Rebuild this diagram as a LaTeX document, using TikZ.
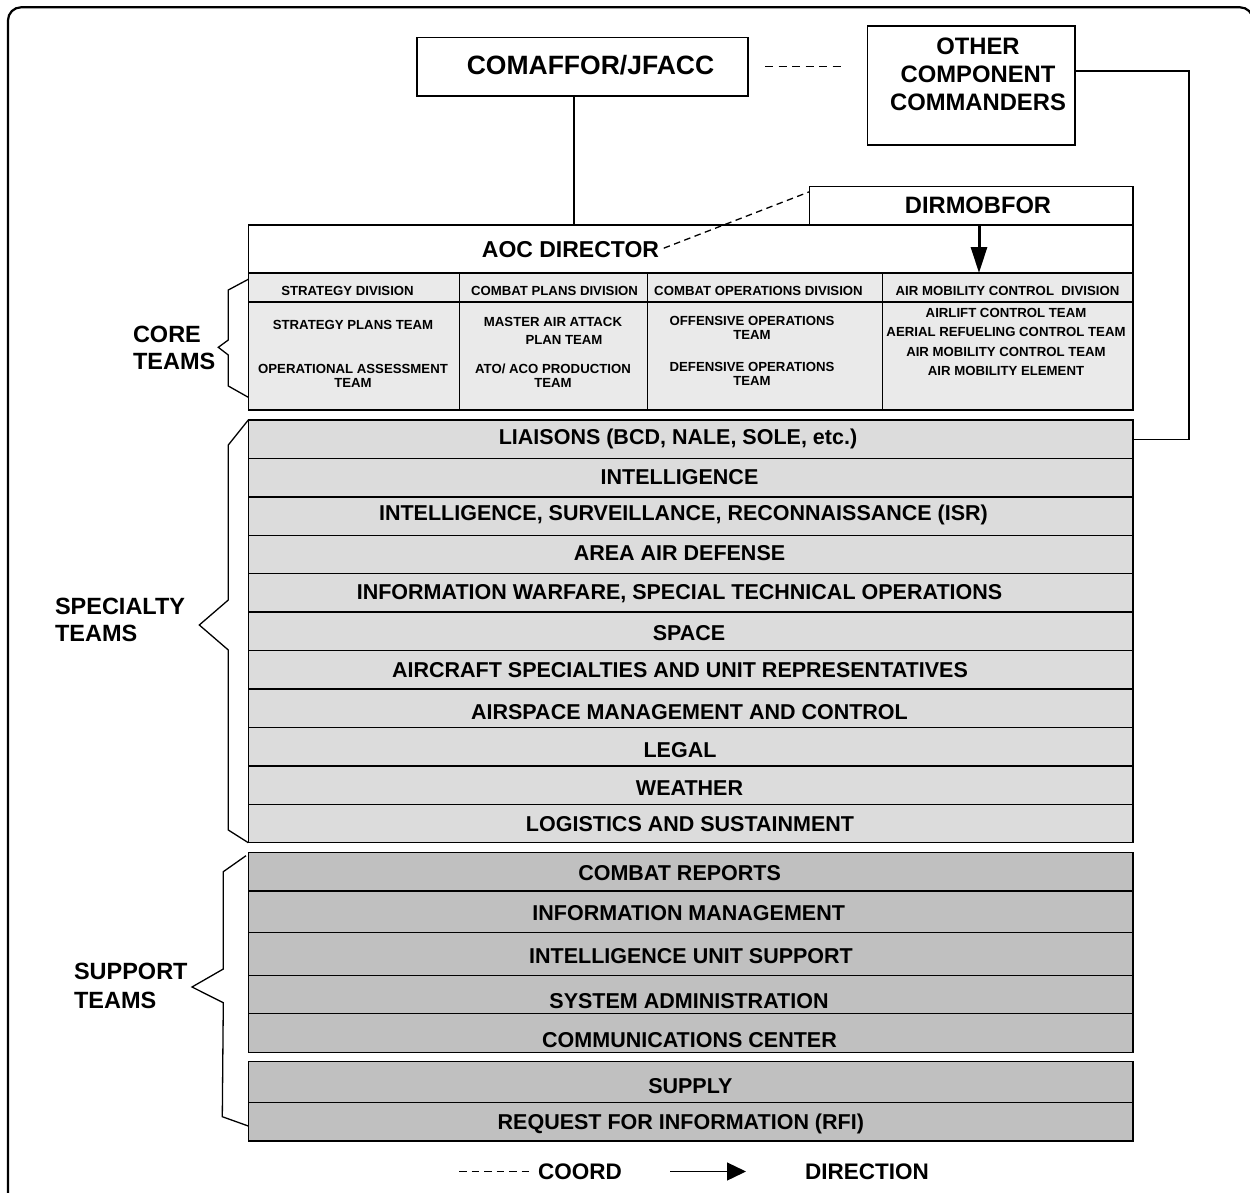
\documentclass[tikz,border=0pt]{standalone}
\usepackage{fontspec}
\setmainfont{Liberation Sans}
\usetikzlibrary{arrows.meta,calc}
\definecolor{coregray}{HTML}{EAEAEA}
\definecolor{specgray}{HTML}{DCDCDC}
\definecolor{supgray}{HTML}{C0C0C0}
\begin{document}
\begin{tikzpicture}[x=1pt,y=-1pt,
  every node/.style={inner sep=0pt, outer sep=0pt},
  boxline/.style={draw=black, line width=1.4pt},
  wbox/.style={boxline, fill=white, rectangle},
  cell/.style={boxline, fill=coregray, rectangle},
  srow/.style={boxline, fill=specgray, minimum width=884.7pt, minimum height=38.43pt},
  prow/.style={boxline, fill=supgray, minimum width=884.7pt},
  ptxt/.style={font=\fontsize{21.5}{25}\selectfont\bfseries},
  divtxt/.style={font=\fontsize{13.2}{14}\selectfont\bfseries, align=center},
  grptxt/.style={font=\fontsize{23.5}{27.5}\selectfont\bfseries, align=left, anchor=west},
  legtxt/.style={font=\fontsize{22.5}{26}\selectfont\bfseries},
  coordline/.style={line width=1.3pt, dash pattern=on 7.5pt off 5pt},
  plainline/.style={line width=1.3pt},
  bracket/.style={line width=1.3pt, line join=miter},
  dirarrow/.style={line width=3pt, -{Triangle[length=26pt, width=16pt]}},
  legarrow/.style={line width=1.3pt, -{Triangle[length=19pt, width=18pt]}}
]
\useasboundingbox (0,0) rectangle (1250,1193);
% outer frame
\draw[line width=2.2pt, rounded corners=13pt] (8,7.3) rectangle (1253,1215);

% top boxes
\node[wbox, minimum width=331pt, minimum height=58.7pt] (comaffor) at (582.5,66.7) {};
\node[font=\fontsize{26.5}{30}\selectfont\bfseries] (comtxt) at (590.5,65.5) {COMAFFOR/JFACC};
\node[wbox, minimum width=207.3pt, minimum height=119pt] (other) at (971.4,85.5) {};
\node[font=\fontsize{23.8}{28}\selectfont\bfseries, align=center] (othtxt) at (978,74.6) {OTHER\\COMPONENT\\COMMANDERS};
\draw[coordline, dash pattern=on 8pt off 5.5pt, shorten <=17pt, shorten >=25pt] (comaffor.east) -- (comaffor.east -| other.west);

\node[wbox, minimum width=323.4pt, minimum height=38.3pt] (dirmob) at (971.3,205.85) {};
\node[font=\fontsize{23.7}{28}\selectfont\bfseries] (dirtxt) at (978,205.7) {DIRMOBFOR};

\node[wbox, minimum width=884.7pt, minimum height=48pt] (aoc) at (690.65,249) {};
\node[font=\fontsize{23}{28}\selectfont\bfseries] (aoctxt) at (570.5,250) {AOC DIRECTOR};

% core table cells
\node[cell, minimum width=211pt, minimum height=29pt] (h1) at (353.8,287.5) {};
\node[cell, minimum width=188pt, minimum height=29pt] (h2) at (553.3,287.5) {};
\node[cell, minimum width=235pt, minimum height=29pt] (h3) at (764.8,287.5) {};
\node[cell, minimum width=250.7pt, minimum height=29pt] (h4) at (1007.65,287.5) {};
\node[cell, minimum width=211pt, minimum height=108pt] (b1) at (353.8,356) {};
\node[cell, minimum width=188pt, minimum height=108pt] (b2) at (553.3,356) {};
\node[cell, minimum width=235pt, minimum height=108pt] (b3) at (764.8,356) {};
\node[cell, minimum width=250.7pt, minimum height=108pt] (b4) at (1007.65,356) {};

\node[divtxt] (h1t) at (347.5,290.6) {STRATEGY DIVISION};
\node[divtxt] (h2t) at (554.5,290.6) {COMBAT PLANS DIVISION};
\node[divtxt] (h3t) at (758.5,290.6) {COMBAT OPERATIONS DIVISION};
\node[divtxt] (h4t) at (1007.5,290.6) {AIR MOBILITY CONTROL\ \ DIVISION};

\node[divtxt] (b1a) at (353,325) {STRATEGY PLANS TEAM};
\node[divtxt] (b1b) at (353,376) {OPERATIONAL ASSESSMENT\\TEAM};
\node[divtxt, font=\fontsize{13.2}{17.7}\selectfont\bfseries] (b2a) at (553,331) {MASTER AIR ATTACK\\\hspace*{22pt}PLAN TEAM};
\node[divtxt] (b2b) at (553,376) {ATO/ ACO PRODUCTION\\TEAM};
\node[divtxt] (b3a) at (752,328) {OFFENSIVE OPERATIONS\\TEAM};
\node[divtxt] (b3b) at (752,374) {DEFENSIVE OPERATIONS\\TEAM};
\node[divtxt, font=\fontsize{13.2}{19.3}\selectfont\bfseries] (b4a) at (1006,342) {AIRLIFT CONTROL TEAM\\AERIAL REFUELING CONTROL TEAM\\AIR MOBILITY CONTROL TEAM\\AIR MOBILITY ELEMENT};

% connectors at top
\coordinate (cv) at (574,0);
\draw[plainline] (comaffor.south -| cv) -- (aoc.north -| cv);
\draw[coordline, dash pattern=on 6.5pt off 4.5pt, shorten <=5pt] (aoctxt.east) -- ($(dirmob.north west)+(0,5)$);
\coordinate (arrx) at (979,0);
\draw[dirarrow] (dirmob.south -| arrx) -- (aoc.south -| arrx);

% specialty rows
\node[srow] (liaisons) at (690.65,439.2) {};
\node[srow] (intel) at (690.65,477.6) {};
\node[srow] (isr) at (690.65,516.1) {};
\node[srow] (aad) at (690.65,554.5) {};
\node[srow] (iw) at (690.65,592.9) {};
\node[srow] (space) at (690.65,631.4) {};
\node[srow] (acft) at (690.65,669.8) {};
\node[srow] (airspace) at (690.65,708.2) {};
\node[srow] (legal) at (690.65,746.7) {};
\node[srow] (weather) at (690.65,785.1) {};
\node[srow] (logi) at (690.65,823.5) {};
\node[ptxt] (s1t) at (678,438.5) {LIAISONS (BCD, NALE, SOLE, etc.)};
\node[ptxt] (s2t) at (679.5,477) {INTELLIGENCE};
\node[ptxt] (s3t) at (683.5,515) {INTELLIGENCE, SURVEILLANCE, RECONNAISSANCE (ISR)};
\node[ptxt] (s4t) at (679.5,553.5) {AREA AIR DEFENSE};
\node[ptxt] (s5t) at (679.5,594) {INFORMATION WARFARE, SPECIAL TECHNICAL OPERATIONS};
\node[ptxt] (s6t) at (689,633) {SPACE};
\node[ptxt] (s7t) at (680,670) {AIRCRAFT SPECIALTIES AND UNIT REPRESENTATIVES};
\node[ptxt] (s8t) at (689.5,712) {AIRSPACE MANAGEMENT AND CONTROL};
\node[ptxt] (s9t) at (680,750) {LEGAL};
\node[ptxt] (s10t) at (689.5,788) {WEATHER};
\node[ptxt] (s11t) at (690,824) {LOGISTICS AND SUSTAINMENT};

% right connector
\coordinate (rc) at (1189,71);
\draw[plainline] (other.east |- rc) -- (rc) -- (rc |- liaisons.east) -- (liaisons.east);

% support rows
\node[prow, minimum height=38.3pt] (p1) at (690.65,871.85) {};
\node[prow, minimum height=41.7pt] (p2) at (690.65,911.85) {};
\node[prow, minimum height=43pt] (p3) at (690.65,954.2) {};
\node[prow, minimum height=38pt] (p4) at (690.65,994.7) {};
\node[prow, minimum height=38.6pt] (p5) at (690.65,1033) {};
\node[prow, minimum height=40.6pt] (p6) at (690.65,1082) {};
\node[prow, minimum height=38.7pt] (p7) at (690.65,1121.65) {};
\node[ptxt] (p1t) at (679.6,873) {COMBAT REPORTS};
\node[ptxt] (p2t) at (688.7,912.7) {INFORMATION MANAGEMENT};
\node[ptxt] (p3t) at (691,955.7) {INTELLIGENCE UNIT SUPPORT};
\node[ptxt] (p4t) at (689,1000.7) {SYSTEM ADMINISTRATION};
\node[ptxt] (p5t) at (689.5,1040) {COMMUNICATIONS CENTER};
\node[ptxt] (p6t) at (690.3,1085.7) {SUPPLY};
\node[ptxt] (p7t) at (680.8,1124) {REQUEST FOR INFORMATION (RFI)};

% braces
\draw[bracket] (248.3,279.3) -- (228.3,290) -- (228.3,340) -- (218.3,347.3) -- (228.3,355) -- (228.3,386) -- (248.3,397.3);
\draw[bracket] (248.3,420) -- (228.3,445) -- (228.3,600) -- (199.3,625) -- (228.3,650) -- (228.3,830) -- (248.3,842.7);
\draw[bracket] (246,855.7) -- (223.3,871.7) -- (223.3,969) -- (192,987) -- (223.3,1002.7) -- (222.3,1116.7) -- (248.3,1126);

\node[grptxt] (coretxt) at (133,348) {CORE\\TEAMS};
\node[grptxt, font=\fontsize{23.5}{26.5}\selectfont\bfseries] (spectxt) at (55,620) {SPECIALTY\\TEAMS};
\node[grptxt, font=\fontsize{23.5}{29}\selectfont\bfseries] (suptxt) at (74,986.3) {SUPPORT\\TEAMS};

% legend
\coordinate (legA) at (459,1171.5);
\node[legtxt] (coordt) at (580,1171.5) {COORD};
\draw[coordline, shorten >=7pt] (legA) -- (coordt.west);
\coordinate (legB) at (670,1171.5);
\coordinate (legC) at (746,1171.5);
\draw[legarrow] (legB) -- (legC);
\node[legtxt] (dirt) at (867,1171.5) {DIRECTION};
\end{tikzpicture}
\end{document}
